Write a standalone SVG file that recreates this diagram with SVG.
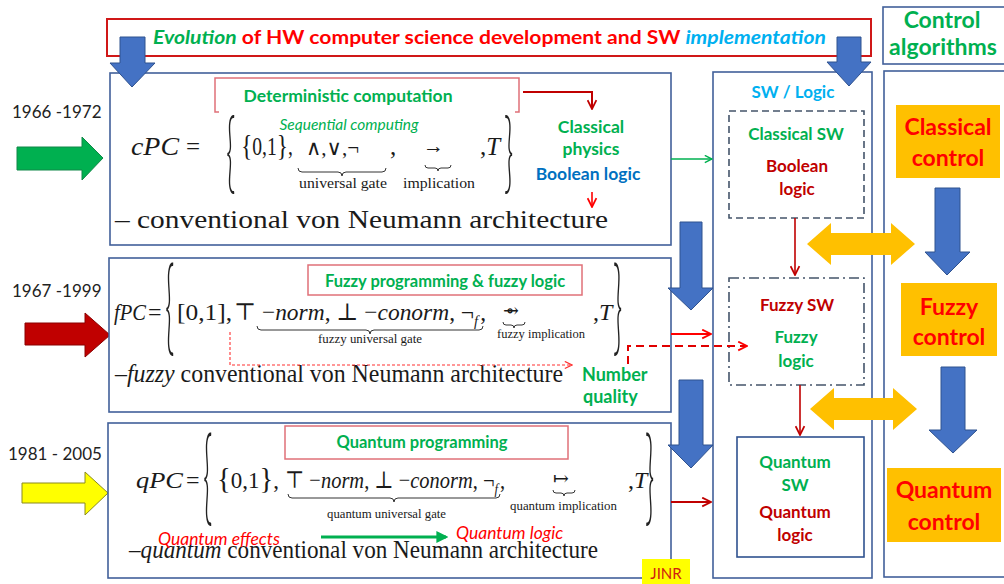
<svg xmlns="http://www.w3.org/2000/svg" width="1004" height="584" viewBox="0 0 1004 584">
  <defs>
    <marker id="ah-green" viewBox="0 0 10 10" refX="9" refY="5" markerWidth="9" markerHeight="9" markerUnits="userSpaceOnUse" orient="auto">
      <path d="M1,1 L9,5 L1,9" fill="none" stroke="#00B050" stroke-width="1.6"/>
    </marker>
    <marker id="ah-red" viewBox="0 0 10 10" refX="9" refY="5" markerWidth="11" markerHeight="11" markerUnits="userSpaceOnUse" orient="auto">
      <path d="M1,1 L9,5 L1,9" fill="none" stroke="#FF0000" stroke-width="1.6"/>
    </marker>
    <marker id="ah-dred" viewBox="0 0 10 10" refX="9" refY="5" markerWidth="11" markerHeight="11" markerUnits="userSpaceOnUse" orient="auto">
      <path d="M1,1 L9,5 L1,9" fill="none" stroke="#C00000" stroke-width="1.6"/>
    </marker>
    <marker id="ah-red-thin" viewBox="0 0 10 10" refX="9" refY="5" markerWidth="9" markerHeight="9" markerUnits="userSpaceOnUse" orient="auto">
      <path d="M1,1 L9,5 L1,9" fill="none" stroke="#FF3030" stroke-width="1.3"/>
    </marker>
    <marker id="ah-green-solid" viewBox="0 0 10 10" refX="8" refY="5" markerWidth="12" markerHeight="12" markerUnits="userSpaceOnUse" orient="auto">
      <path d="M0,0 L10,5 L0,10 Z" fill="#00B050"/>
    </marker>
  </defs>
  <style>
    .sans{font-family:Lato,"Open Sans","Liberation Sans",sans-serif}
    .serif{font-family:"Liberation Serif","DejaVu Serif",serif;fill:#1a1a1a}
    .brace{font-family:Lato,"Open Sans",sans-serif;font-weight:300;fill:#222222}
    .b{font-weight:bold}
    .it{font-style:italic}
    .green{fill:#00B050}
    .red{fill:#FF0000}
    .dred{fill:#C00000}
    .cyan{fill:#00B0F0}
    .blue{fill:#0070C0}
    .frame{fill:#ffffff;stroke:#41609A;stroke-width:1.6}
    .pink{fill:none;stroke:#E07078;stroke-width:1.5}
    .blk{fill:#4472C4;stroke:#2F528F;stroke-width:1}
    .gold{fill:#FFC000}
    .ubrace{fill:none;stroke:#333333;stroke-width:1}
    .year{font-family:Lato,"Open Sans","Liberation Sans",sans-serif;font-size:17px;fill:#222222}
    .mid{text-anchor:middle}
  </style>

  <rect width="1004" height="584" fill="#ffffff"/>

  <!-- title banner -->
  <g id="title">
    <rect x="107" y="19" width="764" height="37" fill="#ffffff" stroke="#D01818" stroke-width="2"/>
    <text class="sans b" x="153" y="44" font-size="19" textLength="673" lengthAdjust="spacingAndGlyphs"><tspan class="green it">Evolution</tspan><tspan class="red"> of HW computer science development and SW </tspan><tspan class="cyan it">implementation</tspan></text>
  </g>

  <!-- control algorithms header -->
  <g id="control-header">
    <rect x="883" y="7" width="130" height="57" fill="#ffffff" stroke="#41609A" stroke-width="1.6"/>
    <text class="sans b green mid" x="942" y="28" font-size="23">Control</text>
    <text class="sans b green mid" x="943" y="55" font-size="23">algorithms</text>
  </g>

  <!-- year markers with arrows -->
  <g id="era-1966">
    <text class="year" x="12" y="118">1966 -1972</text>
    <polygon points="17,147 82,147 82,137 103,158 82,180 82,170 17,170" fill="#00B050" stroke="#108848" stroke-width="1"/>
  </g>
  <g id="era-1967">
    <text class="year" x="12" y="297">1967 -1999</text>
    <polygon points="25,323 85,323 85,313 110,335 85,357 85,345 25,345" fill="#C00000" stroke="#8A0000" stroke-width="1"/>
  </g>
  <g id="era-1981">
    <text class="year" x="8" y="460">1981 - 2005</text>
    <polygon points="22,483 85,483 85,472 108,493 85,515 85,503 22,503" fill="#FFFF00" stroke="#8A8A20" stroke-width="1"/>
  </g>

  <!-- classical computer model -->
  <g id="cpc">
    <rect class="frame" x="110" y="73" width="561" height="172"/>
    <path class="pink" d="M219,112 H215 V78 H519 V112 H515"/>
    <text class="sans b green mid" x="348" y="102" font-size="17.5">Deterministic computation</text>
    <text class="sans it green mid" x="349" y="130" font-size="15.5">Sequential computing</text>
    <text class="serif it" x="131" y="155" font-size="25" textLength="48" lengthAdjust="spacingAndGlyphs">cPC</text>
    <text class="serif" x="186" y="155" font-size="25">=</text>
    <text class="brace" transform="translate(226,182) scale(1,2.77)" font-size="32">{</text>
    <text class="serif" x="241" y="155" font-size="25" textLength="52" lengthAdjust="spacingAndGlyphs"><tspan font-size="30">{</tspan>0,1<tspan font-size="30">}</tspan>,</text>
    <text class="serif" x="306" y="155" font-size="21">∧,∨,¬</text>
    <path class="ubrace" d="M298,168 Q298,172 302,172 L338,172 Q342,172 342,176 Q342,172 346,172 L382,172 Q386,172 386,168"/>
    <text class="serif" x="299" y="188" font-size="15.5" textLength="88" lengthAdjust="spacingAndGlyphs">universal gate</text>
    <text class="serif" x="390" y="155" font-size="25">,</text>
    <text class="serif" x="423" y="153" font-size="21">→</text>
    <path class="ubrace" d="M425,165 Q425,168 428,168 L435,168 Q438,168 438,171 Q438,168 441,168 L448,168 Q451,168 451,165"/>
    <text class="serif" x="403" y="188" font-size="15.5" textLength="72" lengthAdjust="spacingAndGlyphs">implication</text>
    <text class="serif" x="480" y="155" font-size="25">,<tspan font-style="italic">T</tspan></text>
    <text class="brace" transform="translate(504,182) scale(1,2.77)" font-size="32">}</text>
    <text class="serif" x="115" y="228" font-size="26" textLength="493" lengthAdjust="spacingAndGlyphs">– conventional von Neumann architecture</text>
    <text class="sans b green mid" x="591" y="133" font-size="17.5">Classical</text>
    <text class="sans b green mid" x="591" y="155" font-size="17.5">physics</text>
    <text class="sans b blue mid" x="588" y="180" font-size="17.5">Boolean logic</text>
  </g>

  <!-- fuzzy computer model -->
  <g id="fpc">
    <rect class="frame" x="109" y="258" width="562" height="154"/>
    <rect class="pink" x="308" y="265" width="274" height="30"/>
    <text class="sans b green mid" x="445" y="287" font-size="16.5">Fuzzy programming &amp; fuzzy logic</text>
    <text class="serif it" x="114" y="320" font-size="24" textLength="32" lengthAdjust="spacingAndGlyphs">fPC</text>
    <text class="serif" x="148" y="320" font-size="24">=</text>
    <text class="brace" transform="translate(165,342) scale(1,3.25)" font-size="32">{</text>
    <text class="serif" x="177" y="320" font-size="24" textLength="55" lengthAdjust="spacingAndGlyphs">[0,1],</text>
    <text class="serif" x="234" y="320" font-size="24" textLength="252" lengthAdjust="spacingAndGlyphs">⊤ −<tspan font-style="italic">norm</tspan>, ⊥ −<tspan font-style="italic">conorm</tspan>, ¬<tspan font-style="italic" font-size="15" dy="6">f</tspan><tspan dx="2" dy="-6">,</tspan></text>
    <path class="ubrace" d="M257,326 Q257,330 261,330 L366,330 Q370,330 370,334 Q370,330 374,330 L479,330 Q483,330 483,326"/>
    <text class="serif" x="318" y="343" font-size="13" textLength="104" lengthAdjust="spacingAndGlyphs">fuzzy universal gate</text>
    <text class="serif" x="503" y="317" font-size="19">⇴</text>
    <path class="ubrace" d="M503,322 Q503,325 506,325 L511,325 Q514,325 514,328 Q514,325 517,325 L522,325 Q525,325 525,322"/>
    <text class="serif" x="497" y="338" font-size="13" textLength="88" lengthAdjust="spacingAndGlyphs">fuzzy implication</text>
    <text class="serif" x="593" y="320" font-size="24">,<tspan font-style="italic">T</tspan></text>
    <text class="brace" transform="translate(613,342) scale(1,3.25)" font-size="32">}</text>
    <text class="serif" x="115" y="382" font-size="26" textLength="448" lengthAdjust="spacingAndGlyphs">–<tspan font-style="italic">fuzzy</tspan> conventional von Neumann architecture</text>
    <text class="sans b green" x="582" y="381" font-size="18">Number</text>
    <text class="sans b green" x="583" y="403" font-size="18">quality</text>
  </g>

  <!-- quantum computer model -->
  <g id="qpc">
    <rect class="frame" x="108" y="423" width="563" height="155"/>
    <rect class="pink" x="285" y="426" width="283" height="33"/>
    <text class="sans b green mid" x="422" y="448" font-size="16.5">Quantum programming</text>
    <text class="serif it" x="136" y="488" font-size="24" textLength="47" lengthAdjust="spacingAndGlyphs">qPC</text>
    <text class="serif" x="186" y="488" font-size="24">=</text>
    <text class="brace" transform="translate(203,512) scale(1,3.25)" font-size="32">{</text>
    <text class="serif" x="217" y="488" font-size="24" textLength="62" lengthAdjust="spacingAndGlyphs"><tspan font-size="30">{</tspan>0,1<tspan font-size="30">}</tspan>,</text>
    <text class="serif" x="285" y="488" font-size="24" textLength="220" lengthAdjust="spacingAndGlyphs">⊤ −<tspan font-style="italic">norm</tspan>, ⊥ −<tspan font-style="italic">conorm</tspan>, ¬<tspan font-style="italic" font-size="15" dy="6">f</tspan><tspan dx="2" dy="-6">,</tspan></text>
    <path class="ubrace" d="M288,494 Q288,498 292,498 L390,498 Q394,498 394,502 Q394,498 398,498 L496,498 Q500,498 500,494"/>
    <text class="serif" x="327" y="518" font-size="12.5" textLength="119" lengthAdjust="spacingAndGlyphs">quantum universal gate</text>
    <text class="serif" x="553" y="485" font-size="19">↦</text>
    <path class="ubrace" d="M553,490 Q553,493 556,493 L561,493 Q564,493 564,496 Q564,493 567,493 L572,493 Q575,493 575,490"/>
    <text class="serif" x="510" y="510" font-size="12.5" textLength="107" lengthAdjust="spacingAndGlyphs">quantum implication</text>
    <text class="serif" x="628" y="488" font-size="24">,<tspan font-style="italic">T</tspan></text>
    <text class="brace" transform="translate(645,512) scale(1,3.25)" font-size="32">}</text>
    <text class="serif" x="129" y="558" font-size="26" textLength="469" lengthAdjust="spacingAndGlyphs">–<tspan font-style="italic">quantum</tspan> conventional von Neumann architecture</text>
    <text class="sans it red" x="158" y="545" font-size="17.5">Quantum effects</text>
    <text class="sans it red" x="456" y="539" font-size="17.5">Quantum logic</text>
  </g>

  <g id="jinr">
    <rect x="642" y="559" width="48" height="25" fill="#FFFF00"/>
    <text class="sans" x="666" y="579" font-size="15" fill="#D02010" text-anchor="middle">JINR</text>
  </g>

  <!-- software / logic column -->
  <g id="sw-logic">
    <rect class="frame" x="713" y="72" width="159" height="506"/>
    <text class="sans b cyan mid" x="793" y="98" font-size="17">SW / Logic</text>
  </g>
  <g id="classical-sw">
    <rect x="729" y="111" width="135" height="107" fill="none" stroke="#44546A" stroke-width="1.6" stroke-dasharray="7,4"/>
    <text class="sans b green mid" x="796" y="140" font-size="17">Classical SW</text>
    <text class="sans b dred mid" x="797" y="172" font-size="17">Boolean</text>
    <text class="sans b dred mid" x="797" y="195" font-size="17">logic</text>
  </g>
  <g id="fuzzy-sw">
    <rect x="729" y="278" width="135" height="107" fill="none" stroke="#44546A" stroke-width="1.6" stroke-dasharray="10,4,2,4"/>
    <text class="sans b dred mid" x="797" y="311" font-size="17">Fuzzy SW</text>
    <text class="sans b green mid" x="796" y="343" font-size="17">Fuzzy</text>
    <text class="sans b green mid" x="796" y="367" font-size="17">logic</text>
  </g>
  <g id="quantum-sw">
    <rect x="737" y="437" width="127" height="120" fill="none" stroke="#2F528F" stroke-width="1.6"/>
    <text class="sans b green mid" x="795" y="468" font-size="17">Quantum</text>
    <text class="sans b green mid" x="795" y="491" font-size="17">SW</text>
    <text class="sans b dred mid" x="795" y="518" font-size="17">Quantum</text>
    <text class="sans b dred mid" x="795" y="541" font-size="17">logic</text>
  </g>

  <!-- control column -->
  <g id="control-column">
    <rect class="frame" x="884" y="71" width="130" height="506"/>
  </g>
  <g id="classical-control">
    <rect class="gold" x="896" y="105" width="104" height="73"/>
    <text class="sans b red mid" x="948" y="135" font-size="23">Classical</text>
    <text class="sans b red mid" x="948" y="166" font-size="23">control</text>
  </g>
  <g id="fuzzy-control">
    <rect class="gold" x="901" y="283" width="96" height="73"/>
    <text class="sans b red mid" x="949" y="315" font-size="23">Fuzzy</text>
    <text class="sans b red mid" x="949" y="345" font-size="23">control</text>
  </g>
  <g id="quantum-control">
    <rect class="gold" x="887" y="468" width="114" height="74"/>
    <text class="sans b red mid" x="944" y="498" font-size="23">Quantum</text>
    <text class="sans b red mid" x="944" y="530" font-size="23">control</text>
  </g>

  <!-- block arrows -->
  <g id="block-arrows">
    <polygon class="blk" points="120,37 145,37 145,63 155,63 132,87 110,63 120,63"/>
    <polygon class="blk" points="837,37 861,37 861,62 871,62 849,86 827,62 837,62"/>
    <polygon class="blk" points="680,222 702,222 702,288 713,288 691,310 668,288 680,288"/>
    <polygon class="blk" points="679,380 703,380 703,445 713,445 691,468 668,445 679,445"/>
    <polygon class="blk" points="935,188 960,188 960,252 970,252 947,275 925,252 935,252"/>
    <polygon class="blk" points="941,367 965,367 965,430 977,430 953,453 929,430 941,430"/>
    <polygon class="gold" points="807,244 831,223 831,233 891,233 891,223 915,244 891,265 891,255 831,255 831,265"/>
    <polygon class="gold" points="810,409 834,388 834,398 893,398 893,388 917,409 893,430 893,420 834,420 834,430"/>
  </g>

  <!-- connectors -->
  <g id="connectors" fill="none">
    <path d="M523,92 H592 V109" stroke="#C00000" stroke-width="2" marker-end="url(#ah-dred)"/>
    <path d="M592,192 V207" stroke="#FF0000" stroke-width="1.6" marker-end="url(#ah-red)"/>
    <path d="M671,159 H712" stroke="#00B050" stroke-width="1.6" marker-end="url(#ah-green)"/>
    <path d="M230,332 V365 H572" stroke="#FF3030" stroke-width="1.1" stroke-dasharray="3,2" marker-end="url(#ah-red-thin)"/>
    <path d="M628,364 V346 H747" stroke="#E00000" stroke-width="2" stroke-dasharray="8,5" marker-end="url(#ah-red)"/>
    <path d="M671,334 H711" stroke="#FF0000" stroke-width="2" marker-end="url(#ah-red)"/>
    <path d="M671,502 H711" stroke="#C00000" stroke-width="2" marker-end="url(#ah-dred)"/>
    <path d="M795,218 V275" stroke="#C00000" stroke-width="1.6" marker-end="url(#ah-dred)"/>
    <path d="M800,385 V435" stroke="#C00000" stroke-width="1.6" marker-end="url(#ah-dred)"/>
    <path d="M321,537 H446" stroke="#00B050" stroke-width="3" marker-end="url(#ah-green-solid)"/>
  </g>
</svg>
